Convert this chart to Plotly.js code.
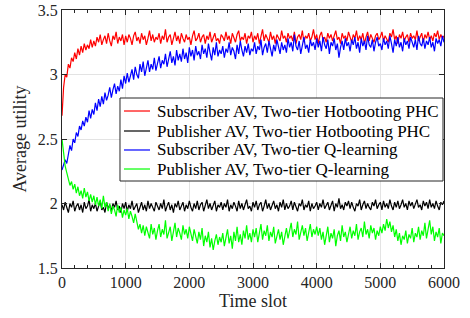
<!DOCTYPE html>
<html><head><meta charset="utf-8">
<script src="https://cdn.plot.ly/plotly-3.0.1.min.js"></script>
<style>body{margin:0;background:#fff}#c{width:470px;height:318px}</style>
</head><body><div id="c"></div>
<script>
const timeSlots = Array.from({length:241},(_,i)=>i*25);
const seriesNames = [
  "Subscriber AV, Two-tier Hotbooting PHC",
  "Publisher AV, Two-tier Hotbooting PHC",
  "Subscriber AV, Two-tier Q-learning",
  "Publisher AV, Two-tier Q-learning"
];
const subHot = [2.68,2.90,3.00,2.98,3.08,3.05,3.13,3.10,3.17,3.12,3.20,3.15,3.22,3.17,3.24,3.19,3.23,3.20,3.27,3.21,3.26,
3.22,3.29,3.25,3.31,3.23,3.27,3.30,3.24,3.32,3.26,3.22,3.30,3.27,3.33,3.24,3.29,3.26,3.31,3.23,3.30,
3.25,3.31,3.28,3.23,3.30,3.33,3.26,3.29,3.24,3.32,3.27,3.30,3.23,3.28,3.34,3.26,3.31,3.25,3.29,3.27,
3.32,3.24,3.30,3.27,3.35,3.25,3.29,3.31,3.23,3.28,3.33,3.26,3.30,3.24,3.32,3.28,3.25,3.31,3.27,3.29,
3.23,3.30,3.34,3.26,3.28,3.32,3.25,3.29,3.31,3.24,3.30,3.27,3.33,3.25,3.29,3.32,3.26,3.28,3.24,3.31,
3.29,3.26,3.33,3.27,3.30,3.24,3.32,3.28,3.25,3.31,3.34,3.26,3.29,3.27,3.32,3.24,3.30,3.28,3.33,3.25,
3.30,3.27,3.32,3.24,3.29,3.35,3.26,3.31,3.28,3.25,3.33,3.27,3.30,3.24,3.31,3.29,3.26,3.34,3.28,3.30,
3.25,3.32,3.28,3.30,3.26,3.33,3.24,3.29,3.31,3.27,3.34,3.25,3.30,3.28,3.32,3.26,3.29,3.35,3.27,3.31,
3.24,3.30,3.33,3.27,3.29,3.25,3.32,3.28,3.31,3.26,3.30,3.34,3.27,3.29,3.24,3.32,3.28,3.30,3.26,3.33,
3.29,3.25,3.31,3.28,3.34,3.26,3.30,3.27,3.32,3.24,3.29,3.33,3.26,3.31,3.28,3.25,3.30,3.32,3.27,3.29,
3.33,3.26,3.30,3.28,3.25,3.32,3.29,3.35,3.27,3.30,3.24,3.31,3.28,3.33,3.26,3.29,3.31,3.25,3.32,3.28,
3.30,3.27,3.34,3.26,3.29,3.32,3.25,3.31,3.28,3.33,3.27,3.30,3.26,3.32,3.29,3.34,3.27,3.31,3.28,3.30];
const pubHot = [1.99,
1.95,2.01,1.96,1.93,2.00,1.97,2.02,1.94,1.98,2.00,1.95,1.99,1.93,2.01,1.96,1.98,2.03,1.94,1.99,1.96,
2.00,1.94,1.98,2.02,1.95,1.97,1.93,2.01,1.96,1.99,1.94,2.00,1.97,2.02,1.95,1.98,1.93,2.00,1.96,2.01,
1.94,1.99,1.96,2.02,1.95,1.98,2.00,1.93,1.97,2.01,1.95,1.99,1.94,2.02,1.96,2.00,1.97,1.94,2.01,1.98,
1.95,2.00,1.96,2.03,1.94,1.98,2.01,1.95,1.99,1.93,2.00,1.97,2.02,1.95,1.98,2.01,1.94,1.99,1.96,2.02,
1.97,1.94,2.00,1.96,2.02,1.95,1.99,2.01,1.94,1.98,2.03,1.96,2.00,1.95,1.98,2.02,1.94,1.99,1.97,2.01,
1.95,2.00,1.97,2.03,1.94,1.99,1.96,2.01,1.98,1.94,2.02,1.96,2.00,1.95,1.99,2.03,1.96,1.98,1.94,2.01,
1.97,2.02,1.95,1.99,2.01,1.94,1.98,2.03,1.96,2.00,1.95,1.98,2.02,1.96,1.99,1.94,2.01,1.97,2.03,1.95,
2.00,1.96,1.98,2.02,1.95,2.01,1.97,1.94,2.00,1.98,2.03,1.95,1.99,1.97,2.02,1.94,2.00,1.96,1.98,2.01,
1.95,2.00,1.97,2.03,1.96,1.99,2.01,1.95,1.98,2.02,1.94,2.00,1.97,2.04,1.96,1.99,1.95,2.01,1.98,2.02,
1.96,2.01,1.97,1.94,2.00,1.98,2.03,1.95,1.99,2.02,1.96,2.00,1.97,1.95,2.01,1.98,2.03,1.96,1.99,2.01,
1.95,2.02,1.97,2.00,1.96,2.03,1.98,1.95,2.01,1.97,2.02,1.96,1.99,2.03,1.97,2.00,1.95,2.02,1.98,2.01,
1.96,2.00,2.03,1.97,1.99,1.95,2.02,1.98,2.01,1.96,2.03,1.97,2.00,1.96,2.02,1.98,1.95,2.01,1.99,2.02];
const subQ = [2.26,2.30,2.34,2.31,2.40,2.45,2.41,2.50,2.47,2.55,2.52,2.60,2.57,2.64,2.60,2.67,2.63,2.72,2.66,2.73,2.69,
2.78,2.72,2.81,2.75,2.83,2.77,2.86,2.80,2.84,2.90,2.82,2.88,2.93,2.85,2.91,2.87,2.96,2.89,2.99,2.93,
3.01,2.94,2.99,3.04,2.96,3.06,3.00,2.97,3.08,3.02,3.10,2.99,3.05,3.11,3.02,3.08,3.04,3.13,3.03,3.09,
3.14,3.05,3.11,3.08,3.16,3.06,3.12,3.18,3.09,3.14,3.07,3.19,3.11,3.16,3.10,3.20,3.12,3.17,3.09,3.21,
3.14,3.19,3.11,3.22,3.15,3.18,3.12,3.23,3.16,3.20,3.13,3.24,3.17,3.11,3.21,3.15,3.25,3.14,3.19,3.16,
3.22,3.13,3.20,3.17,3.25,3.15,3.21,3.18,3.12,3.23,3.16,3.26,3.19,3.14,3.22,3.17,3.24,3.15,3.20,3.18,
3.25,3.16,3.22,3.19,3.27,3.15,3.21,3.24,3.17,3.26,3.20,3.14,3.23,3.18,3.27,3.21,3.16,3.25,3.19,3.23,
3.17,3.28,3.21,3.25,3.18,3.31,3.22,3.19,3.26,3.16,3.24,3.29,3.20,3.23,3.17,3.27,3.22,3.25,3.19,3.28,
3.21,3.26,3.18,3.29,3.23,3.20,3.27,3.16,3.25,3.22,3.28,3.19,3.24,3.13,3.21,3.26,3.19,3.28,3.22,3.25,
3.18,3.27,3.23,3.29,3.20,3.25,3.17,3.28,3.22,3.26,3.19,3.30,3.23,3.21,3.27,3.18,3.25,3.29,3.22,3.24,
3.19,3.28,3.23,3.26,3.20,3.30,3.24,3.17,3.27,3.22,3.29,3.21,3.25,3.18,3.28,3.23,3.26,3.20,3.29,3.24,
3.21,3.27,3.19,3.30,3.24,3.22,3.28,3.20,3.26,3.23,3.29,3.21,3.25,3.18,3.28,3.24,3.27,3.22,3.30,3.25];
const pubQ = [2.50,2.38,2.29,2.24,2.19,2.14,2.17,2.11,2.15,2.08,2.13,2.06,2.10,2.04,2.12,2.05,2.09,2.02,2.07,2.01,2.06,
1.99,2.05,1.98,2.03,1.96,2.06,1.97,2.01,1.94,2.00,1.92,1.98,1.95,1.90,1.99,1.93,1.97,1.89,1.95,1.91,
1.96,1.88,1.94,1.90,1.85,1.92,1.86,1.80,1.84,1.77,1.83,1.75,1.82,1.78,1.73,1.84,1.76,1.81,1.72,1.79,
1.84,1.74,1.80,1.76,1.87,1.73,1.78,1.82,1.71,1.79,1.85,1.74,1.81,1.77,1.72,1.83,1.76,1.80,1.73,1.82,
1.77,1.71,1.80,1.74,1.69,1.78,1.72,1.81,1.67,1.75,1.70,1.78,1.66,1.73,1.64,1.71,1.76,1.68,1.74,1.70,
1.77,1.67,1.73,1.80,1.69,1.75,1.65,1.78,1.71,1.82,1.70,1.76,1.68,1.79,1.73,1.83,1.72,1.77,1.70,1.80,
1.74,1.81,1.70,1.77,1.84,1.72,1.79,1.75,1.83,1.71,1.78,1.74,1.82,1.69,1.76,1.80,1.72,1.78,1.68,1.75,
1.81,1.73,1.79,1.85,1.74,1.80,1.76,1.86,1.72,1.78,1.83,1.75,1.81,1.71,1.79,1.84,1.74,1.80,1.76,1.82,
1.75,1.81,1.72,1.78,1.68,1.76,1.82,1.70,1.77,1.73,1.80,1.67,1.75,1.79,1.71,1.83,1.74,1.78,1.70,1.76,
1.82,1.73,1.79,1.75,1.84,1.72,1.78,1.81,1.74,1.86,1.76,1.80,1.73,1.83,1.77,1.81,1.72,1.79,1.75,1.82,
1.77,1.84,1.79,1.88,1.81,1.86,1.78,1.83,1.74,1.80,1.71,1.77,1.68,1.75,1.72,1.79,1.69,1.76,1.73,1.81,
1.70,1.77,1.74,1.82,1.72,1.79,1.75,1.85,1.73,1.80,1.87,1.76,1.82,1.71,1.78,1.74,1.81,1.69,1.77,1.75];
const colors = ["#ff0000","#000000","#0000ff","#00ff00"];
const xTickVals = [0,1000,2000,3000,4000,5000,6000];
const yTickVals = [1.5,2,2.5,3,3.5];
const yTickText = ["1.5","2","2.5","3","3.5"];

const ys = [subHot,pubHot,subQ,pubQ];
const traces = ys.map((y,k)=>({
  x: timeSlots, y: y, type:'scatter', mode:'lines', name: seriesNames[k],
  line:{color:colors[k], width:1.2}, showlegend:false
}));
const ff = 'Liberation Serif';

// legend drawn as a boxed key in paper coordinates
const legBox = {x0:0.1518, x1:0.9974, y0:0.3372, y1:0.6589};
const legRows = [0.6085, 0.5310, 0.4574, 0.3837];
const legShapes = [{type:'rect', xref:'paper', yref:'paper', x0:legBox.x0, x1:legBox.x1, y0:legBox.y0, y1:legBox.y1,
  fillcolor:'#ffffff', line:{color:'#262626', width:1}, layer:'above'}]
  .concat(legRows.map((r,k)=>({type:'line', xref:'paper', yref:'paper', x0:0.1623, x1:0.2304, y0:r, y1:r,
  line:{color:colors[k], width:1.2}, layer:'above'})));
const legText = legRows.map((r,k)=>({xref:'paper', yref:'paper', x:0.2435, y:r, xanchor:'left', yanchor:'middle',
  text:seriesNames[k], showarrow:false, font:{family:ff, size:17, color:'#000'}}));

const layout = {
  width:470, height:318,
  margin:{l:62,r:26,t:10,b:50},
  paper_bgcolor:'#fff', plot_bgcolor:'#fff',
  font:{family:ff, size:16, color:'#262626'},
  showlegend:false,
  shapes: legShapes,
  annotations: legText,
  xaxis:{range:[0,6000], tickvals:xTickVals, ticks:'inside', ticklen:5, tickcolor:'#262626',
    showline:true, linecolor:'#262626', linewidth:1, mirror:'allticks',
    showgrid:true, gridcolor:'#e3e3e3', gridwidth:1, zeroline:false,
    minor:{dtick:200, ticks:'inside', ticklen:3, tickcolor:'#262626', showgrid:false},
    title:{text:'Time slot', font:{family:ff,size:18,color:'#262626'}, standoff:1},
    tickfont:{family:ff,size:16,color:'#262626'}},
  yaxis:{range:[1.5,3.5], tickvals:yTickVals, ticktext:yTickText, ticks:'inside', ticklen:5, tickcolor:'#262626',
    showline:true, linecolor:'#262626', linewidth:1, mirror:'allticks',
    showgrid:true, gridcolor:'#e3e3e3', gridwidth:1, zeroline:false,
    title:{text:'Average utility', font:{family:ff,size:18,color:'#262626'}, standoff:6},
    tickfont:{family:ff,size:16,color:'#262626'}}
};
function draw(){ Plotly.newPlot('c', traces, layout, {staticPlot:true, displayModeBar:false}); }
if (document.fonts && document.fonts.load) {
  document.fonts.load('16px "Liberation Serif"').then(draw, draw);
} else { draw(); }
</script>
</body></html>
